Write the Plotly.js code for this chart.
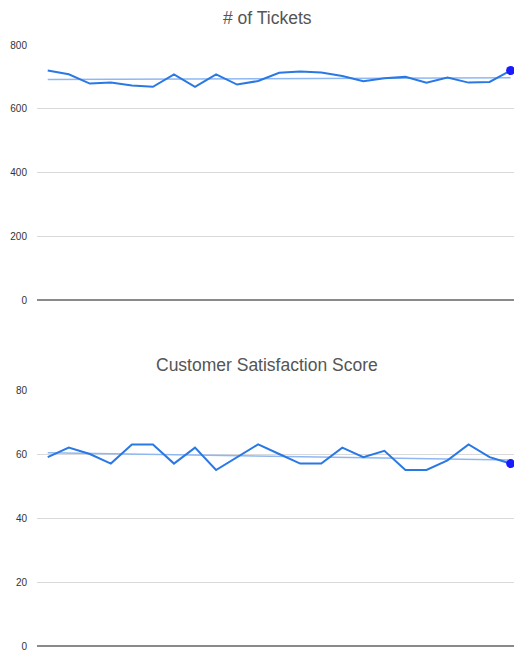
<!DOCTYPE html>
<html>
<head>
<meta charset="utf-8">
<script src="https://cdn.plot.ly/plotly-3.0.1.min.js"></script>
<style>html,body{margin:0;padding:0;background:#fff;}#chart{width:514px;height:650px;}</style>
</head>
<body>
<div id="chart"></div>
<script>
const periods = Array.from({length: 23}, (_, i) => i + 1);
const tickets = [720, 708, 679, 682, 673, 669, 708, 669, 708, 676, 687, 713, 717, 714, 703, 686, 696, 700, 682, 698, 682, 684, 720];
const satisfaction = [59, 62, 60, 57, 63, 63, 57, 62, 55, 59, 63, 60, 57, 57, 62, 59, 61, 55, 55, 58, 63, 59, 57];
const titles = ["# of Tickets", "Customer Satisfaction Score"];
const ticketTicks = [0, 200, 400, 600, 800];
const satTicks = [0, 20, 40, 60, 80];

function fit(xs, ys) {
  const n = xs.length;
  const mx = xs.reduce((a, b) => a + b, 0) / n;
  const my = ys.reduce((a, b) => a + b, 0) / n;
  let num = 0, den = 0;
  for (let i = 0; i < n; i++) { num += (xs[i] - mx) * (ys[i] - my); den += (xs[i] - mx) ** 2; }
  const m = num / den, b = my - m * mx;
  return xs.map(x => m * x + b);
}

const lineColor = '#2a78e4';
const trendColor = '#8fb8f2';
const dotColor = '#1a1aff';
const last = periods.length - 1;

const traces = [
  {x: periods, y: fit(periods, tickets), xaxis: 'x', yaxis: 'y', mode: 'lines', line: {color: trendColor, width: 1.5}, hoverinfo: 'skip'},
  {x: periods, y: tickets, xaxis: 'x', yaxis: 'y', mode: 'lines', line: {color: lineColor, width: 2}},
  {x: [periods[last]], y: [tickets[last]], xaxis: 'x', yaxis: 'y', mode: 'markers', marker: {color: dotColor, size: 9}, cliponaxis: false},
  {x: periods, y: fit(periods, satisfaction), xaxis: 'x2', yaxis: 'y2', mode: 'lines', line: {color: trendColor, width: 1.5}, hoverinfo: 'skip'},
  {x: periods, y: satisfaction, xaxis: 'x2', yaxis: 'y2', mode: 'lines', line: {color: lineColor, width: 2}},
  {x: [periods[last]], y: [satisfaction[last]], xaxis: 'x2', yaxis: 'y2', mode: 'markers', marker: {color: dotColor, size: 9}, cliponaxis: false}
];

const xCommon = {range: [0.49, 23.16], showgrid: false, zeroline: false, showticklabels: false, ticks: '', showline: false};
const yCommon = {
  showgrid: true, gridcolor: '#d9d9d9', gridwidth: 1,
  zeroline: true, zerolinecolor: '#8a8a8a', zerolinewidth: 1.2,
  showline: false, ticks: '', ticklabelstandoff: 9, ticklabeloverflow: 'allow',
  tickfont: {family: 'Liberation Sans, Arial, sans-serif', size: 10, color: '#333'}
};

const layout = {
  width: 514, height: 650,
  margin: {l: 37, r: 0, t: 0, b: 0},
  paper_bgcolor: '#fff', plot_bgcolor: '#fff',
  showlegend: false,
  font: {family: 'Liberation Sans, Arial, sans-serif'},
  xaxis: Object.assign({}, xCommon, {domain: [0, 1], anchor: 'y'}),
  yaxis: Object.assign({}, yCommon, {domain: [350/650, 605/650], range: [0, 800], tickvals: ticketTicks, anchor: 'x'}),
  xaxis2: Object.assign({}, xCommon, {domain: [0, 1], anchor: 'y2'}),
  yaxis2: Object.assign({}, yCommon, {domain: [4/650, 260/650], range: [0, 80], tickvals: satTicks, anchor: 'x2'}),
  annotations: [
    {text: titles[0], xref: 'paper', yref: 'paper', x: (267 - 37) / 477, y: 1 - 18/650, xanchor: 'center', yanchor: 'middle', showarrow: false, font: {size: 17.5, color: '#555'}},
    {text: titles[1], xref: 'paper', yref: 'paper', x: (267 - 37) / 477, y: 1 - 365/650, xanchor: 'center', yanchor: 'middle', showarrow: false, font: {size: 17.5, color: '#555'}}
  ]
};

Plotly.newPlot('chart', traces, layout, {displayModeBar: false, staticPlot: true});
</script>
</body>
</html>
